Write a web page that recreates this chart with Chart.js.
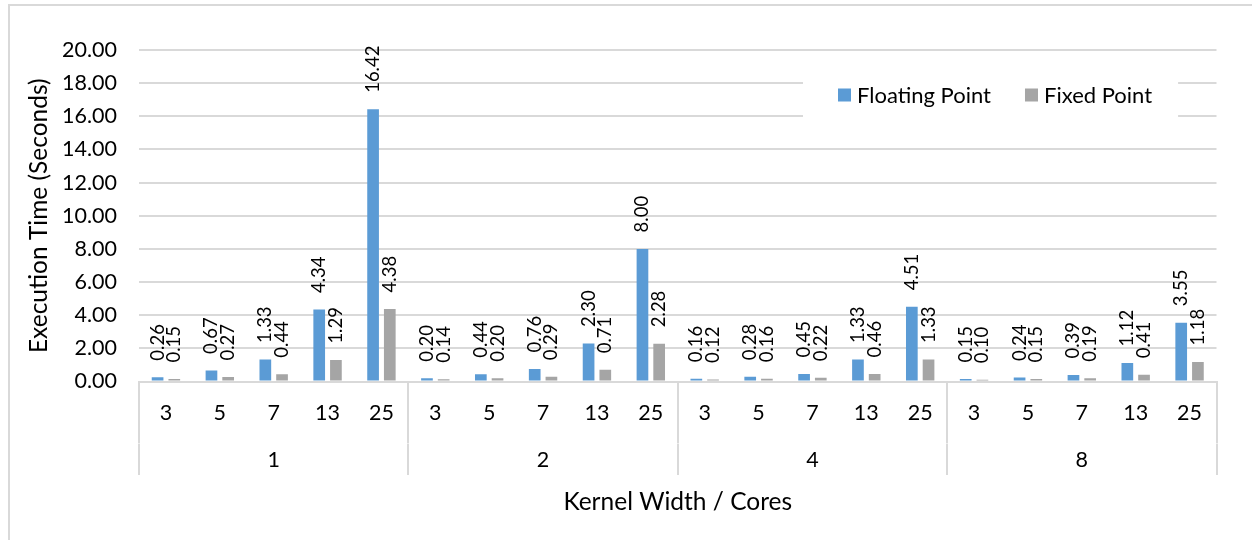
<!DOCTYPE html>
<html>
<head>
<meta charset="utf-8">
<title>Execution Time by Kernel Width and Cores</title>
<script src="https://cdn.jsdelivr.net/npm/chart.js@4.4.1/dist/chart.umd.min.js"></script>
<style>
  html, body { margin: 0; padding: 0; background: #ffffff; }
  canvas { display: block; }
</style>
</head>
<body>
<canvas id="chart" width="1252" height="540"></canvas>
<script>
// Kernel widths repeat inside each core-count group
const kernelWidths = ['3', '5', '7', '13', '25'];
const coreCounts = ['1', '2', '4', '8'];

// Execution time in seconds, ordered core group by core group
const floatingPoint = [
  0.26, 0.67, 1.33, 4.34, 16.42,
  0.20, 0.44, 0.76, 2.30, 8.00,
  0.16, 0.28, 0.45, 1.33, 4.51,
  0.15, 0.24, 0.39, 1.12, 3.55
];
const fixedPoint = [
  0.15, 0.27, 0.44, 1.29, 4.38,
  0.14, 0.20, 0.29, 0.71, 2.28,
  0.12, 0.16, 0.22, 0.46, 1.33,
  0.10, 0.15, 0.19, 0.41, 1.18
];

const yMin = 0;
const yMax = 20;
const yStep = 2;

const FONT = 'Lato';
const TEXT = '#000000';
const GRID = '#D9D9D9';
const BLUE = '#5B9BD5';
const GRAY = '#A5A5A5';

const categoryLabels = coreCounts.flatMap(() => kernelWidths);

// Light outer frame around the whole chart
const framePlugin = {
  id: 'frame',
  beforeDraw(chart) {
    const c = chart.ctx;
    c.save();
    c.strokeStyle = GRID;
    c.lineWidth = 2;
    c.strokeRect(9, 5, chart.width + 20, chart.height + 20);
    c.restore();
  }
};

// Vertical value labels sitting above each bar
const valueLabelPlugin = {
  id: 'valueLabels',
  afterDatasetsDraw(chart) {
    const c = chart.ctx;
    c.save();
    c.font = `18.5px ${FONT}`;
    c.fillStyle = TEXT;
    c.textAlign = 'left';
    c.textBaseline = 'middle';
    chart.data.datasets.forEach((ds, i) => {
      chart.getDatasetMeta(i).data.forEach((bar, j) => {
        c.save();
        c.translate(bar.x, bar.y - 16.5);
        c.rotate(-Math.PI / 2);
        c.fillText(ds.data[j].toFixed(2), 0, 0);
        c.restore();
      });
    });
    c.restore();
  }
};

// Legend placed inside the plot area, on a white box over the gridlines
const insetLegendPlugin = {
  id: 'insetLegend',
  afterDatasetsDraw(chart) {
    const c = chart.ctx;
    const area = chart.chartArea;
    c.save();
    c.font = `22px ${FONT}`;
    const swatch = 13, gap = 6, itemGap = 34;
    const items = chart.data.datasets.map(ds => ({
      text: ds.label,
      color: ds.backgroundColor,
      w: c.measureText(ds.label).width
    }));
    const total = items.reduce((s, it, k) => s + swatch + gap + it.w + (k ? itemGap : 0), 0);
    let x = area.left + 699;
    const cy = area.top + 45;
    c.fillStyle = '#ffffff';
    c.fillRect(x - 35, cy - 25, total + 35 + 26, 50);
    c.textAlign = 'left';
    c.textBaseline = 'middle';
    items.forEach(it => {
      c.fillStyle = it.color;
      c.fillRect(x, cy - swatch / 2, swatch, swatch);
      c.fillStyle = TEXT;
      c.fillText(it.text, x + swatch + gap, cy + 1);
      x += swatch + gap + it.w + itemGap;
    });
    c.restore();
  }
};

new Chart(document.getElementById('chart'), {
  type: 'bar',
  data: {
    labels: categoryLabels,
    datasets: [
      { label: 'Floating Point', data: floatingPoint, backgroundColor: BLUE, xAxisID: 'x', yAxisID: 'y' },
      { label: 'Fixed Point', data: fixedPoint, backgroundColor: GRAY, xAxisID: 'x', yAxisID: 'y' }
    ]
  },
  options: {
    responsive: false,
    devicePixelRatio: 1,
    animation: false,
    categoryPercentage: 0.62,
    barPercentage: 0.7,
    layout: { padding: { top: 50, right: 35.5, bottom: 0, left: 0 } },
    plugins: {
      legend: { display: false },
      tooltip: { enabled: false }
    },
    scales: {
      x: {
        type: 'category',
        position: 'bottom',
        weight: 0,
        offset: true,
        grid: {
          offset: true,
          drawOnChartArea: false,
          drawTicks: true,
          tickLength: 62,
          lineWidth: 2,
          color: ctx => (ctx.type !== 'tick' || ctx.index % kernelWidths.length === 0) ? GRID : 'rgba(0,0,0,0)'
        },
        border: { display: true, color: GRID, width: 2 },
        ticks: {
          autoSkip: false,
          maxRotation: 0,
          padding: -43,
          color: TEXT,
          font: { family: FONT, size: 21.5 }
        },
        afterFit: s => { s.height = 62; }
      },
      x2: {
        type: 'category',
        labels: coreCounts,
        position: 'bottom',
        weight: 1,
        offset: true,
        grid: {
          offset: true,
          drawOnChartArea: false,
          drawTicks: true,
          tickLength: 31.5,
          lineWidth: 2,
          color: GRID
        },
        border: { display: false },
        ticks: {
          autoSkip: false,
          maxRotation: 0,
          padding: -27.6,
          color: TEXT,
          font: { family: FONT, size: 21.5 }
        },
        title: {
          display: true,
          text: 'Kernel Width / Cores',
          color: TEXT,
          font: { family: FONT, size: 24.5 },
          padding: { top: 0, bottom: 23.6 }
        },
        afterFit: s => { s.height = 96.5; }
      },
      y: {
        min: yMin,
        max: yMax,
        ticks: {
          stepSize: yStep,
          padding: 22,
          color: TEXT,
          font: { family: FONT, size: 21.5 },
          callback: v => Number(v).toFixed(2)
        },
        grid: { color: GRID, lineWidth: 2, drawTicks: false },
        border: { display: false },
        title: {
          display: true,
          text: 'Execution Time (Seconds)',
          color: TEXT,
          font: { family: FONT, size: 24.5 },
          padding: { top: 24.3, bottom: 0 }
        },
        afterFit: s => { s.width = 139; }
      }
    }
  },
  plugins: [framePlugin, valueLabelPlugin, insetLegendPlugin]
});
</script>
</body>
</html>
